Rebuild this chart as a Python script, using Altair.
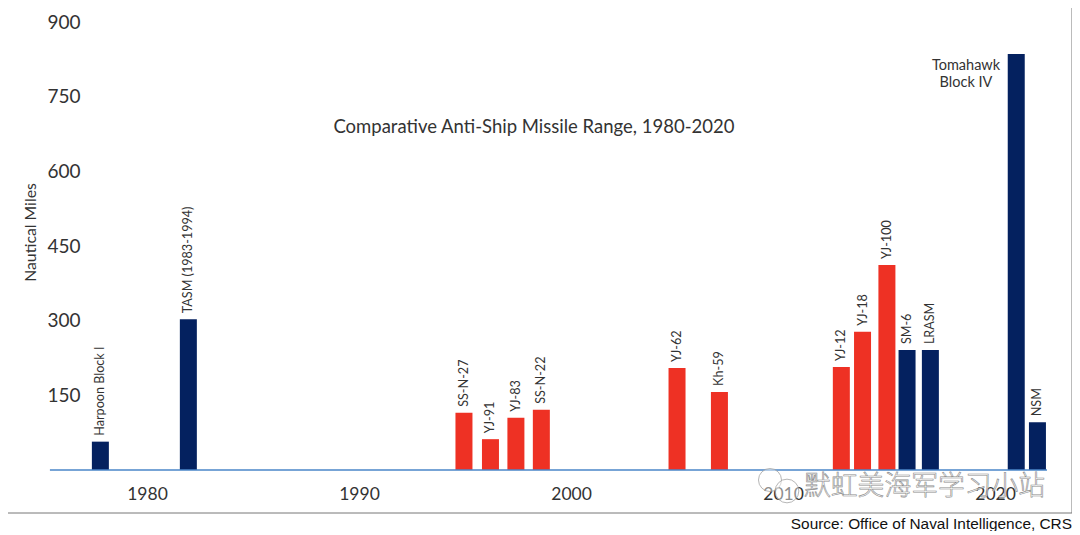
import altair as alt
import pandas as pd

names = ["Harpoon Block I", "TASM (1983-1994)", "SS-N-27", "YJ-91", "YJ-83", "SS-N-22", "YJ-62", "Kh-59",
         "YJ-12", "YJ-18", "YJ-100", "SM-6", "LRASM", "Tomahawk", "NSM"]
years = [1977.8, 1981.95, 1994.95, 1996.2, 1997.4, 1998.6, 2005.0, 2007.0,
         2012.75, 2013.75, 2014.9, 2015.85, 2016.95, 2021.0, 2022.0]
ranges = [57, 303, 115, 62, 105, 121, 205, 157, 207, 278, 412, 241, 241, 836, 96]
sides = ["US", "US", "Foreign", "Foreign", "Foreign", "Foreign", "Foreign", "Foreign",
         "Foreign", "Foreign", "Foreign", "US", "US", "US", "US"]
bar_labels = ["Harpoon Block I", "TASM (1983-1994)", "SS-N-27", "YJ-91", "YJ-83", "SS-N-22", "YJ-62", "Kh-59",
              "YJ-12", "YJ-18", "YJ-100", "SM-6", "LRASM", "", "NSM"]
x_ticks = [1980, 1990, 2000, 2010, 2020]
y_ticks = [150, 300, 450, 600, 750, 900]

NAVY, RED, BLUE, INK, FRAME = "#04215f", "#ee3124", "#4a86c8", "#333333", "#777777"
FONT = "Lato"

df = pd.DataFrame({"name": names, "year": years, "range": ranges, "side": sides, "label": bar_labels})

x_scale = alt.Scale(domain=[1973.443, 2023.63], nice=False, zero=False, padding=0)
y_scale = alt.Scale(domain=[-86.4, 928.6], nice=False, zero=False, padding=0)
X = alt.X("year:Q", scale=x_scale,
          axis=alt.Axis(values=x_ticks, format="d", title=None, grid=False, domain=False, ticks=False,
                        offset=-28, labelPadding=0, labelFont=FONT, labelFontSize=17.5, labelColor=INK,
                        labelFlush=False, labelOverlap=False))
Y = alt.Y("range:Q", scale=y_scale,
          axis=alt.Axis(values=y_ticks, format="d", title="Nautical Miles", grid=False, domain=False, ticks=False,
                        offset=-72, labelPadding=0, labelFont=FONT, labelFontSize=19, labelColor=INK,
                        labelOverlap=False, labelFlush=False,
                        titleFont=FONT, titleFontSize=15.8, titleFontWeight="normal", titleColor=INK,
                        titlePadding=8, titleAnchor="middle", titleY=224))

bars = alt.Chart(df).mark_bar(size=17, orient="vertical").encode(
    x=X, y=Y,
    y2=alt.datum(0),
    color=alt.Color("side:N", legend=None,
                    scale=alt.Scale(domain=["US", "Foreign"], range=[NAVY, RED])),
)

labels = alt.Chart(df[df["label"] != ""]).mark_text(
    angle=270, align="left", baseline="middle", dx=6, font=FONT, fontSize=12.6, color=INK
).encode(x=alt.X("year:Q", scale=x_scale), y=alt.Y("range:Q", scale=y_scale), text="label:N")

base_df = pd.DataFrame({"x0": [1975.42], "x1": [2022.45], "v": [0]})
baseline = alt.Chart(base_df).mark_rule(color=BLUE, strokeWidth=1.5).encode(
    x=alt.X("x0:Q", scale=x_scale), x2="x1:Q", y=alt.Y("v:Q", scale=y_scale))

tom = alt.Chart(pd.DataFrame({"x": [2018.63], "y": [812], "t": ["Tomahawk\nBlock IV"]})).mark_text(
    lineBreak="\n", font=FONT, fontSize=14.5, color=INK, lineHeight=17
).encode(x=alt.X("x:Q", scale=x_scale), y=alt.Y("y:Q", scale=y_scale), text="t:N")

title = alt.Chart(pd.DataFrame({"x": [1998.25], "y": [689],
                                "t": ["Comparative Anti-Ship Missile Range, 1980-2020"]})).mark_text(
    font=FONT, fontSize=18.5, color=INK
).encode(x=alt.X("x:Q", scale=x_scale), y=alt.Y("y:Q", scale=y_scale), text="t:N")

right_edge = alt.Chart(pd.DataFrame({"a": [0]})).mark_rule(color=FRAME, strokeWidth=1).encode(
    x=alt.value(1064), y=alt.value(0), y2=alt.value(505))
bottom_edge = alt.Chart(pd.DataFrame({"a": [0]})).mark_rule(color=FRAME, strokeWidth=1).encode(
    x=alt.value(0), x2=alt.value(1064), y=alt.value(505))

source = alt.Chart(pd.DataFrame({"t": ["Source: Office of Naval Intelligence, CRS"]})).mark_text(
    font="Liberation Sans", fontSize=15.4, color="#111111", align="right", baseline="middle"
).encode(x=alt.value(1064), y=alt.value(516), text="t:N")

icon = alt.Chart(pd.DataFrame({"px": [762, 779], "py": [472, 483], "sz": [530, 560]})).mark_point(
    filled=True, shape="circle", color="white", fillOpacity=0.45, stroke="#999999", strokeWidth=0.8, strokeOpacity=0.9
).encode(x=alt.X("px:Q", scale=None), y=alt.Y("py:Q", scale=None), size=alt.Size("sz:Q", scale=None, legend=None))

wm = alt.Chart(pd.DataFrame({"t": ["默虹美海军学习小站"]})).mark_text(
    font="Noto Sans CJK SC", fontSize=26.8, fontWeight=300, fill="white", fillOpacity=0.75,
    stroke="#8a8a8a", strokeWidth=0.6, align="left", baseline="middle"
).encode(x=alt.value(796), y=alt.value(479), text="t:N")

chart = alt.layer(bars, baseline, labels, tom, title, right_edge, bottom_edge, source, icon, wm).resolve_scale(
    size="independent"
).properties(
    width=1064, height=505,
    autosize=alt.AutoSizeParams(type="none"),
    padding={"left": 0, "top": 0, "right": 0, "bottom": 18},
    background="white",
).configure_view(stroke=None)

chart.save("out.html", embed_options={"renderer": "svg", "actions": False})
